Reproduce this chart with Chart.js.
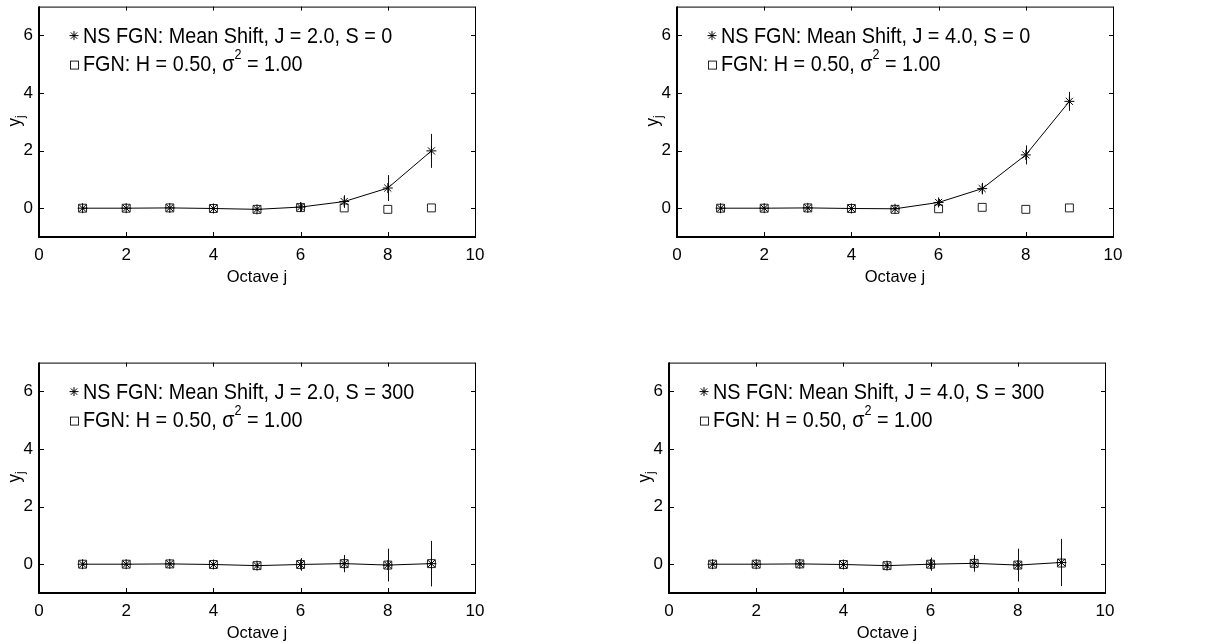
<!DOCTYPE html>
<html>
<head>
<meta charset="utf-8">
<script src="https://cdn.jsdelivr.net/npm/chart.js@4.4.1/dist/chart.umd.min.js"></script>
<style>
body { margin: 0; background: #fff; width: 1212px; height: 643px; overflow: hidden; position: relative;
       font-family: "Liberation Sans", Arial, sans-serif; color: #000; }
.panel { position: absolute; width: 560px; height: 287px; }
.panel canvas { position: absolute; left: 0; top: 0; }
.leg { position: absolute; left: 83px; font-size: 22px; line-height: 28px; white-space: nowrap;
       transform: scaleX(0.9); transform-origin: 0 0; }
.leg sup { font-size: 14px; line-height: 0; vertical-align: 12px; }
.ylab { position: absolute; left: -6px; top: 109px; width: 40px; height: 24px; line-height: 24px;
        text-align: center; font-size: 19px; transform: rotate(-90deg) scaleX(0.9); }
.ylab sub { font-size: 13px; line-height: 0; vertical-align: -4px; }
</style>
</head>
<body>

<div class="panel" id="p1" style="left:0px;top:0px"><canvas id="c1" width="560" height="287"></canvas></div>
<div class="panel" id="p2" style="left:638px;top:0px"><canvas id="c2" width="560" height="287"></canvas></div>
<div class="panel" id="p3" style="left:0px;top:356px"><canvas id="c3" width="560" height="287"></canvas></div>
<div class="panel" id="p4" style="left:630px;top:356px"><canvas id="c4" width="560" height="287"></canvas></div>

<script>
// ----- data -----
const octaves = [1, 2, 3, 4, 5, 6, 7, 8, 9];
const xTicks = [0, 2, 4, 6, 8, 10];
const yTicks = [0, 2, 4, 6];

const panelTitles = [
    'NS FGN: Mean Shift, J = 2.0, S = 0',
    'NS FGN: Mean Shift, J = 4.0, S = 0',
    'NS FGN: Mean Shift, J = 2.0, S = 300',
    'NS FGN: Mean Shift, J = 4.0, S = 300'
];
const fgnLabel = 'FGN: H = 0.50, &sigma;<sup>2</sup> = 1.00';

// J = 2.0, S = 0
const nsJ2S0    = [0.00, 0.00, 0.01, -0.01, -0.04, 0.04, 0.23, 0.70, 1.99];
const nsJ2S0Err = [0.04, 0.04, 0.04, 0.04, 0.06, 0.15, 0.22, 0.45, 0.59];
const fgnJ2S0   = [0.00, 0.00, 0.01, -0.01, -0.04, 0.02, 0.01, -0.04, 0.01];

// J = 4.0, S = 0
const nsJ4S0    = [0.00, 0.00, 0.01, -0.01, -0.02, 0.20, 0.68, 1.85, 3.71];
const nsJ4S0Err = [0.04, 0.04, 0.04, 0.04, 0.06, 0.12, 0.20, 0.33, 0.33];
const fgnJ4S0   = [0.00, 0.00, 0.01, -0.01, -0.04, -0.02, 0.03, -0.04, 0.01];

// J = 2.0, S = 300
const nsJ2S300    = [0.00, 0.00, 0.01, -0.01, -0.05, -0.01, 0.02, -0.03, 0.02];
const nsJ2S300Err = [0.05, 0.05, 0.05, 0.05, 0.08, 0.22, 0.30, 0.57, 0.79];
const fgnJ2S300   = [0.00, 0.00, 0.01, -0.01, -0.05, -0.01, 0.02, -0.03, 0.02];

// J = 4.0, S = 300
const nsJ4S300    = [0.00, 0.00, 0.01, -0.01, -0.05, 0.00, 0.03, -0.03, 0.06];
const nsJ4S300Err = [0.05, 0.05, 0.05, 0.05, 0.10, 0.23, 0.29, 0.57, 0.82];
const fgnJ4S300   = [0.00, 0.00, 0.01, -0.01, -0.05, 0.00, 0.03, -0.03, 0.04];

const FONT = '"Liberation Sans", Arial, sans-serif';

// ----- helpers for drawing MATLAB-like markers -----
function drawStar(ctx, x, y, r) {
    ctx.beginPath();
    for (let k = 0; k < 4; k++) {
        const a = k * Math.PI / 4;
        ctx.moveTo(x - r * Math.cos(a), y - r * Math.sin(a));
        ctx.lineTo(x + r * Math.cos(a), y + r * Math.sin(a));
    }
    ctx.stroke();
}

// ----- plugin: error bars, box frame, inner ticks, legend markers -----
const matlabPlugin = {
    id: 'matlab',
    beforeDatasetsDraw(chart, args, opts) {
        const { ctx, scales: { x, y } } = chart;
        const pts = chart.data.datasets[0].data;
        ctx.save();
        ctx.strokeStyle = '#111';
        ctx.lineWidth = 1;
        pts.forEach(function (p, i) {
            const px = Math.round(x.getPixelForValue(p.x)) + 0.5;
            ctx.beginPath();
            ctx.moveTo(px, y.getPixelForValue(p.y + opts.err[i]));
            ctx.lineTo(px, y.getPixelForValue(p.y - opts.err[i]));
            ctx.stroke();
        });
        ctx.restore();
    },
    afterDraw(chart) {
        const { ctx, chartArea: a, scales: { x, y } } = chart;
        ctx.save();
        ctx.strokeStyle = '#000';
        // thin top/right, heavier bottom/left
        ctx.lineWidth = 1;
        ctx.beginPath();
        ctx.moveTo(a.left, a.top + 0.5); ctx.lineTo(a.right + 0.5, a.top + 0.5);
        ctx.lineTo(a.right + 0.5, a.bottom);
        ctx.stroke();
        ctx.lineWidth = 2;
        ctx.beginPath();
        ctx.moveTo(a.left, a.top); ctx.lineTo(a.left, a.bottom); ctx.lineTo(a.right + 1, a.bottom);
        ctx.stroke();
        // inward ticks on all four sides
        ctx.lineWidth = 1;
        ctx.beginPath();
        xTicks.forEach(function (v) {
            const px = Math.round(x.getPixelForValue(v)) + 0.5;
            ctx.moveTo(px, a.bottom); ctx.lineTo(px, a.bottom - 5);
            ctx.moveTo(px, a.top); ctx.lineTo(px, a.top + 4);
        });
        yTicks.forEach(function (v) {
            const py = Math.round(y.getPixelForValue(v)) + 0.5;
            ctx.moveTo(a.left, py); ctx.lineTo(a.left + 5, py);
            ctx.moveTo(a.right, py); ctx.lineTo(a.right - 4, py);
        });
        ctx.stroke();
        // legend markers
        ctx.lineWidth = 1;
        ctx.strokeStyle = '#000';
        drawStar(ctx, a.left + 35, a.top + 29, 4.5);
        ctx.strokeStyle = '#222';
        ctx.strokeRect(a.left + 31.5, a.top + 54.5, 8, 8);
        ctx.restore();
    }
};

function makeChart(n, ns, nsErr, fgn) {
    const panel = document.getElementById('p' + n);
    panel.insertAdjacentHTML('beforeend',
        '<div class="leg" style="top:22px">' + panelTitles[n - 1] + '</div>' +
        '<div class="leg" style="top:50px">' + fgnLabel + '</div>' +
        '<div class="ylab">y<sub>j</sub></div>');

    new Chart(document.getElementById('c' + n), {
        type: 'scatter',
        data: {
            datasets: [{
                label: panelTitles[n - 1],
                data: octaves.map((x, i) => ({ x: x, y: ns[i] })),
                showLine: true,
                borderColor: '#000',
                borderWidth: 1,
                pointStyle: 'star',
                pointRadius: 5,
                pointBorderColor: '#000',
                pointBorderWidth: 1
            }, {
                label: 'FGN',
                data: octaves.map((x, i) => ({ x: x, y: fgn[i] })),
                showLine: false,
                pointStyle: 'rect',
                pointRadius: 5.6,
                pointBackgroundColor: 'rgba(0,0,0,0)',
                pointBorderColor: '#222',
                pointBorderWidth: 1
            }]
        },
        options: {
            responsive: false,
            animation: false,
            devicePixelRatio: 1,
            layout: { padding: { left: 0, top: 5, right: 85, bottom: 0 } },
            plugins: {
                legend: { display: false },
                tooltip: { enabled: false },
                matlab: { err: nsErr }
            },
            scales: {
                x: {
                    type: 'linear', min: 0, max: 10,
                    afterBuildTicks: s => { s.ticks = xTicks.map(v => ({ value: v })); },
                    afterFit: s => { s.height = 50; },
                    grid: { display: false, drawTicks: false },
                    border: { display: false },
                    ticks: { color: '#000', padding: 8, maxRotation: 0, autoSkip: false,
                             font: { size: 17, family: FONT } },
                    title: { display: true, text: 'Octave j', color: '#000', padding: 0,
                             font: { size: 16.5, family: FONT } }
                },
                y: {
                    type: 'linear', min: -1, max: 7,
                    afterBuildTicks: s => { s.ticks = yTicks.map(v => ({ value: v })); },
                    afterFit: s => { s.width = 39; s.paddingTop = 0; s.paddingBottom = 0; },
                    grid: { display: false, drawTicks: false },
                    border: { display: false },
                    ticks: { color: '#000', padding: 6, font: { size: 17, family: FONT } }
                }
            }
        },
        plugins: [matlabPlugin]
    });
}

makeChart(1, nsJ2S0, nsJ2S0Err, fgnJ2S0);
makeChart(2, nsJ4S0, nsJ4S0Err, fgnJ4S0);
makeChart(3, nsJ2S300, nsJ2S300Err, fgnJ2S300);
makeChart(4, nsJ4S300, nsJ4S300Err, fgnJ4S300);
</script>
</body>
</html>
